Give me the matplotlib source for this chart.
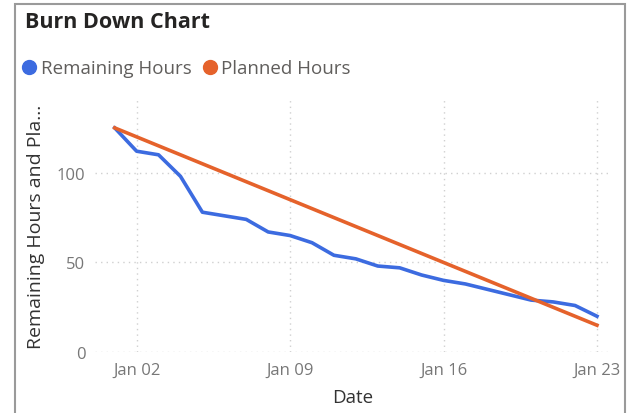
import matplotlib.pyplot as plt
import matplotlib.dates as mdates
from matplotlib.lines import Line2D
from matplotlib.patches import Rectangle
import numpy as np
import pandas as pd

dates = pd.date_range("2023-01-01", "2023-01-23", freq="D")
remaining = [125, 112, 110, 98, 78, 76, 74, 67, 65, 61, 54, 52, 48, 47,
             43, 40, 38, 35, 32, 29, 28, 26, 20]
planned = [125, 120, 115, 110, 105, 100, 95, 90, 85, 80, 75, 70, 65, 60,
           55, 50, 45, 40, 35, 30, 25, 20, 15]
tick_dates = pd.to_datetime(["2023-01-02", "2023-01-09", "2023-01-16", "2023-01-23"])
y_ticks = [0, 50, 100]

blue = "#3C6BE0"
orange = "#E5622B"

plt.rcParams['font.family'] = ['Open Sans', 'DejaVu Sans']

fig = plt.figure(figsize=(6.29, 4.14), dpi=100)
ax = fig.add_axes([0.151, 0.147, 0.819, 0.611])

ax.plot(dates, remaining, color=blue, lw=2.6, solid_joinstyle='round', zorder=3)
ax.plot(dates, planned, color=orange, lw=2.6, solid_joinstyle='round', zorder=3)

ax.set_ylim(0, 141)
ax.set_xlim(dates[0] - pd.Timedelta(days=0.9), dates[-1] + pd.Timedelta(days=0.6))
ax.set_yticks(y_ticks)
ax.set_xticks(tick_dates)
ax.xaxis.set_major_formatter(mdates.DateFormatter("%b %d"))
ax.grid(True, color="#D0D0D0", linestyle=(0, (1, 3)), lw=1)
for s in ax.spines.values():
    s.set_visible(False)
ax.tick_params(length=0, labelsize=12, colors="#777777", pad=7)

ax.set_xlabel("Date", fontsize=13.5, color="#333333")
ax.xaxis.set_label_coords(0.5, -0.14)
ax.set_ylabel("Remaining Hours and Pla...", fontsize=14, color="#333333")
ax.yaxis.set_label_coords(-0.097, 0.5)

fig.text(0.040, 0.945, "Burn Down Chart", fontsize=15.5, fontweight='bold',
         color="#252423", va='center', ha='left')

handles = [Line2D([], [], marker='o', ls='none', color=blue, markersize=10),
           Line2D([], [], marker='o', ls='none', color=orange, markersize=10)]
fig.legend(handles, ["Remaining Hours", "Planned Hours"], loc='center left',
           bbox_to_anchor=(0.002, 0.833), ncol=2, frameon=False, fontsize=13.5,
           handletextpad=0.0, columnspacing=0.4, labelcolor="#605E5C",
           handlelength=1.2)

fig.patches.append(Rectangle((0.024, -0.01), 0.969, 0.998, transform=fig.transFigure,
                             fill=False, edgecolor="#9A9A9A", lw=1.5))

fig.savefig("out.png", dpi=100)
